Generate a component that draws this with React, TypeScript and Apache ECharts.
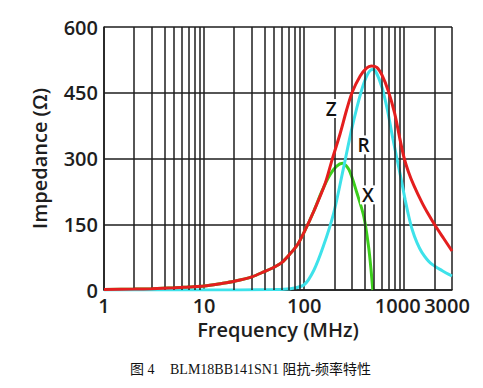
import React, { useEffect, useRef } from "react";
import * as echarts from "echarts";

// Impedance |Z| (red)
const zFreq = [1, 2, 3, 5, 7, 10, 15, 20, 30, 40, 50, 60, 72, 85, 100, 126, 162, 190, 229, 265, 302, 363, 420, 468, 532, 600, 690, 800, 910, 1000, 1100, 1250, 1500, 1750, 2000, 2470, 3000];
const zVal = [1, 2, 3, 5, 7, 9, 15, 20, 30, 42, 52, 63, 82, 102, 132, 182, 243, 297, 357, 410, 451, 488, 506, 511, 508, 490, 455, 404, 342, 300, 270, 238, 200, 172, 150, 118, 89];

// Resistance R (cyan)
const rFreq = [1, 10, 50, 72, 100, 125, 155, 197, 245, 302, 375, 430, 480, 520, 600, 680, 770, 845, 927, 1023, 1104, 1200, 1340, 1500, 1820, 2400, 3000];
const rVal = [0, 0, 1, 3, 12, 45, 99, 175, 274, 372, 456, 492, 503, 498, 462, 410, 345, 300, 255, 205, 170, 138, 108, 86, 62, 44, 32];

// Reactance X (green)
const xFreq = [1, 2, 3, 5, 7, 10, 15, 20, 30, 40, 50, 60, 72, 85, 100, 126, 150, 180, 210, 242, 281, 338, 395, 440, 465, 485];
const xVal = [1, 2, 3, 5, 7, 9, 15, 20, 30, 42, 52, 63, 82, 102, 132, 182, 225, 262, 282, 289, 274, 220, 167, 99, 48, 0];

// Minor log grid lines
const minorGrid = [2, 3, 4, 5, 6, 7, 8, 9, 20, 30, 40, 50, 60, 70, 80, 90, 200, 300, 400, 500, 600, 700, 800, 900, 2000];

// Curve labels
const curveNames = ["Z", "R", "X"];
const curveLabelFreq = [186, 392, 434];
const curveLabelVal = [414, 331, 217];

const zip = (a: number[], b: number[]) => a.map((v, i) => [v, b[i]]);

const FONT = "Open Sans";
const INK = "#1e1e1e";

export default function App() {
  const ref = useRef<HTMLDivElement>(null);
  useEffect(() => {
    if (!ref.current) return;
    const chart = echarts.init(ref.current, null, { renderer: "svg" });
    const gridLine = { color: INK, width: 1.5 };
    const txt = { fontSize: 20, color: INK, fontFamily: FONT, fontWeight: 600 };
    const curve = (name: string, data: number[][], color: string, z: number) => ({
      name,
      type: "line",
      data,
      smooth: 0.3,
      showSymbol: false,
      z,
      lineStyle: { color, width: 3 },
      itemStyle: { color },
    });
    const option: any = {
      animation: false,
      backgroundColor: "#fff",
      grid: { left: 104, right: 31, top: 27, bottom: 98 },
      xAxis: {
        type: "log",
        logBase: 10,
        min: 1,
        max: 3000,
        axisLine: { show: true, lineStyle: gridLine },
        axisTick: { show: false },
        splitLine: { show: true, lineStyle: gridLine },
        axisLabel: {
          ...txt,
          margin: 5,
          showMinLabel: true,
          showMaxLabel: true,
          formatter: (v: number) => {
            const r = Math.round(v);
            if (r === 1000) return "{a|1000}";
            if (r === 3000) return "{b|3000}";
            return String(r);
          },
          rich: {
            a: { ...txt, padding: [0, 13, 0, 0] },
            b: { ...txt, padding: [0, 10, 0, 0] },
          },
        },
        name: "Frequency (MHz)",
        nameLocation: "middle",
        nameGap: 29,
        nameTextStyle: txt,
      },
      yAxis: {
        type: "value",
        min: 0,
        max: 600,
        interval: 150,
        axisLine: { show: true, lineStyle: gridLine },
        axisTick: { show: false },
        splitLine: { show: true, lineStyle: gridLine },
        axisLabel: { ...txt, margin: 6 },
        name: "Impedance (Ω)",
        nameLocation: "middle",
        nameGap: 55,
        nameTextStyle: txt,
      },
      series: [
        {
          type: "line",
          data: [],
          z: 1,
          silent: true,
          markLine: {
            silent: true,
            symbol: ["none", "none"],
            label: { show: false },
            lineStyle: { color: INK, width: 1.5, type: "solid" },
            emphasis: { disabled: true },
            data: minorGrid.map((v) => ({ xAxis: v })),
          },
        },
        curve("X", zip(xFreq, xVal), "#3ccf1c", 3),
        curve("R", zip(rFreq, rVal), "#3ee2ea", 4),
        {
          ...curve("Z", zip(zFreq, zVal), "#e41e1e", 5),
          markPoint: {
            silent: true,
            symbol: "circle",
            symbolSize: 1,
            itemStyle: { color: "rgba(0,0,0,0)" },
            label: {
              show: true,
              position: "inside",
              fontSize: 19,
              fontWeight: 600,
              fontFamily: FONT,
              color: "#111",
              backgroundColor: "#fff",
              padding: [0, 2],
              formatter: (p: any) => p.name,
            },
            data: curveNames.map((n, i) => ({ name: n, coord: [curveLabelFreq[i], curveLabelVal[i]] })),
          },
        },
      ],
      graphic: [
        {
          type: "text",
          left: 130,
          top: 362,
          style: { text: "图 4", font: '14px "Liberation Serif", "Noto Sans CJK SC"', fill: "#111" },
        },
        {
          type: "text",
          left: 170,
          top: 362,
          style: { text: "BLM18BB141SN1 阻抗-频率特性", font: '14px "Liberation Serif", "Noto Sans CJK SC"', fill: "#111" },
        },
      ],
    };
    chart.setOption(option);
    return () => chart.dispose();
  }, []);
  return <div ref={ref} style={{ position: "absolute", left: 0, top: 0, width: 483, height: 388 }} />;
}
